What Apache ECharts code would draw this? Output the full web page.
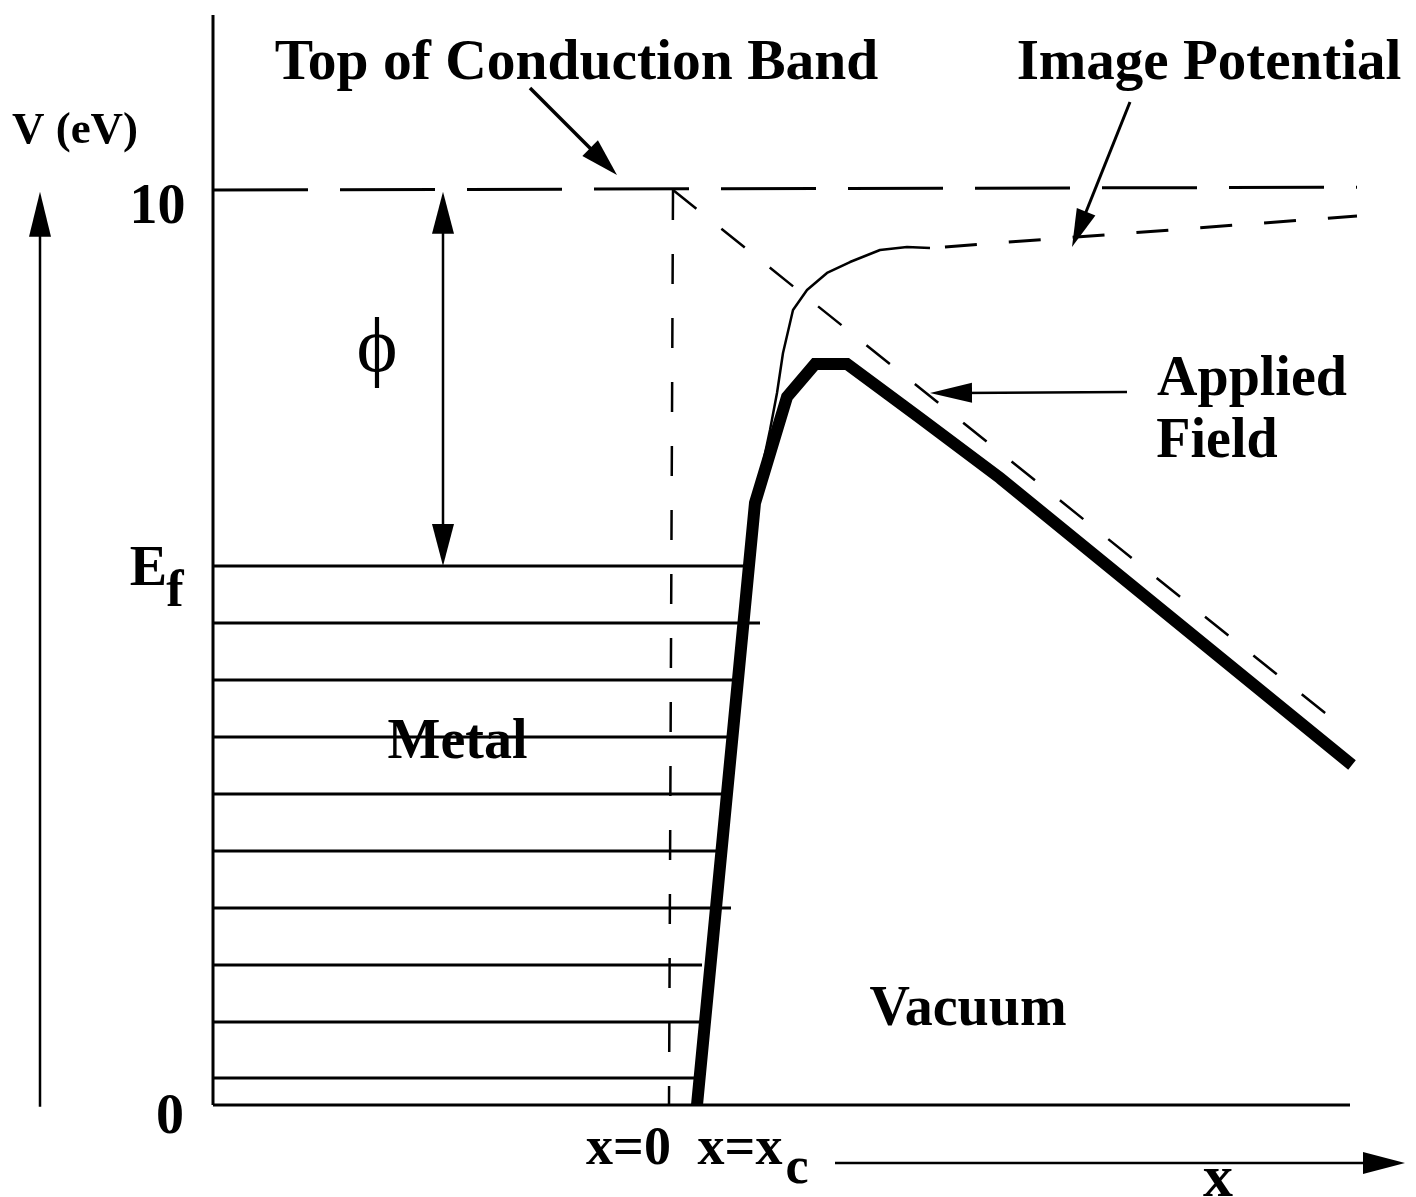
<!DOCTYPE html>
<html>
<head>
<meta charset="utf-8">
<script src="https://cdn.jsdelivr.net/npm/echarts@6/dist/echarts.min.js"></script>
<style>
  html, body { margin: 0; padding: 0; background: #fff; }
  #chart { width: 1416px; height: 1197px; }
</style>
</head>
<body>
<div id="chart"></div>
<script>
// ---------------- data (x in arbitrary distance units, V in eV) ----------------
const surfaceX = -45.9;                 // left edge of the metal
const axisTopV = 11.913;                // top of the vertical V line
const baseRightX = 67.8;                // end of the V = 0 line

const metalLevels    = [5.891, 5.268, 4.645, 4.022, 3.399, 2.776, 2.153, 1.530, 0.907, 0.295];
const metalLevelEnds = [7.8, 8.8, 6.2, 6.2, 5.5, 5.0, 5.9, 3.0, 3.0, 2.4];

const bandTopX = [-45.9, 68.5];
const bandTopV = [10, 10.03];

const originLineX = [0.1, -0.3];
const originLineV = [10, 0];

const fieldX = [0.1, 66.8];
const fieldV = [10, 4.153];

const barrierX = [2.5, 8.3, 11.5, 14.3, 17.5, 24.8, 32.8, 68.0];
const barrierV = [0, 6.579, 7.738, 8.098, 8.098, 7.508, 6.852, 3.716];

const imageX = [8.6, 9.1, 9.8, 10.5, 11.1, 12.1, 13.5, 15.5, 17.8, 20.8, 23.5, 25.8];
const imageV = [6.580, 7.016, 7.377, 7.781, 8.219, 8.689, 8.907, 9.093, 9.213, 9.344, 9.377, 9.366];

const imageTailX = [25.8, 68.5];
const imageTailV = [9.366, 9.716];

// arrows: [x1, v1, x2, v2]
const arrowData = [
  [-63.2, -0.02, -63.2, 9.98],     // V axis arrow
  [-22.9, 9.98, -22.9, 5.891],     // work function (double)
  [-14.2, 11.115, -5.5, 10.164],   // top of conduction band pointer
  [45.8, 10.962, 40.0, 9.377],     // image potential pointer
  [45.5, 7.792, 25.8, 7.781],      // applied field pointer
  [16.3, -0.634, 73.3, -0.634]     // x axis arrow
];

const yTickValues = [0, 5.891, 10];
const yTickLabels = ['0', 'E', '10'];

// annotation texts and their anchor points (data coords)
const annoText = ['V (eV)', 'f', 'ϕ', 'Top of Conduction Band', 'Image Potential', 'Applied', 'Field',
                  'Metal', 'Vacuum', 'x=0', 'x=x', 'c', 'x'];
const annoX = [-59.7, -49.7, -29.5, -9.55, 53.7, 58.0, 54.5, -21.45, 29.6, -4.35, 6.8, 12.5, 54.6];
const annoV = [10.678, 5.656, 8.251, 11.432, 11.432, 7.967, 7.290, 4.011, 1.082, -0.492, -0.492, -0.661, -0.765];

// ---------------- layout / style ----------------
const X0_PX = 672, PX_PER_X = 10, V0_PX = 1105, PX_PER_V = 91.5, W = 1416, H = 1197;
const FONT = 'Liberation Serif';
const annoSize = [45, 52, 78, 57.5, 57, 56, 56, 56, 56, 54, 54, 52, 60];
const annoWeight = ['bold', 'bold', 'normal', 'bold', 'bold', 'bold', 'bold', 'bold', 'bold', 'bold', 'bold', 'bold', 'bold'];
const annoShiftPx = [3, 5, 0, 5, 5, 5, 5, 6, 5, 0, 0, 4, 6];   // fine vertical nudge (pixels, downward)
const yTickSize = [56, 56, 56];
const yTickX = [-50.2, -52.35, -51.45];
const yTickShiftPx = [14, 5, 19];
const arrowStyle = [
  { len: 45, w: 22, lw: 2.5 },
  { len: 42, w: 22, lw: 2.5, double: true },
  { len: 38, w: 22, lw: 3.5 },
  { len: 38, w: 20, lw: 3 },
  { len: 42, w: 20, lw: 2.5 },
  { len: 42, w: 22, lw: 2.5 }
];

const zip = (xs, ys) => xs.map((x, i) => [x, ys[i]]);
const lineSeries = (data, style) => ({
  type: 'line', data, symbol: 'none', silent: true, animation: false,
  lineStyle: Object.assign({ color: '#000', width: 2.5 }, style), z: 2
});

const series = [];
// vertical boundary and baseline
series.push(lineSeries([[surfaceX, 0], [surfaceX, axisTopV]], { width: 3 }));
series.push(lineSeries([[surfaceX, 0], [baseRightX, 0]], { width: 3 }));
// metal levels
metalLevels.forEach((v, i) => series.push(lineSeries([[surfaceX, v], [metalLevelEnds[i], v]], { width: 3 })));
// top of conduction band
series.push(lineSeries(zip(bandTopX, bandTopV), { width: 3, type: [95, 32] }));
// x = 0 dashed
series.push(lineSeries(zip(originLineX, originLineV), { width: 2.5, type: [30, 34] }));
// applied field dashed
series.push(lineSeries(zip(fieldX, fieldV), { width: 2.5, type: [30, 32] }));
// image potential
series.push(lineSeries(zip(imageX, imageV), { width: 2.5 }));
series.push(lineSeries(zip(imageTailX, imageTailV), { width: 3, type: [32, 32], dashOffset: 49 }));
// barrier (thick)
series.push(Object.assign(lineSeries(zip(barrierX, barrierV), { width: 12, cap: 'butt', join: 'miter' }), { z: 3 }));

// arrows
series.push({
  type: 'custom', data: arrowData, silent: true, animation: false, clip: false, z: 4,
  encode: { x: [0, 2], y: [1, 3] },
  renderItem: function (params, api) {
    const p1 = api.coord([api.value(0), api.value(1)]);
    const p2 = api.coord([api.value(2), api.value(3)]);
    const st = arrowStyle[params.dataIndex];
    const dx = p2[0] - p1[0], dy = p2[1] - p1[1], len = Math.hypot(dx, dy);
    const ux = dx / len, uy = dy / len, L = st.len, hw = st.w / 2;
    const head = (tip, ax, ay) => {
      const bx = tip[0] - ax * L, by = tip[1] - ay * L;
      return { type: 'polygon', shape: { points: [tip, [bx - ay * hw, by + ax * hw], [bx + ay * hw, by - ax * hw]] },
               style: { fill: '#000' } };
    };
    let s = p1, e = [p2[0] - ux * L * 0.7, p2[1] - uy * L * 0.7];
    if (st.double) s = [p1[0] + ux * L * 0.7, p1[1] + uy * L * 0.7];
    const children = [
      { type: 'line', shape: { x1: s[0], y1: s[1], x2: e[0], y2: e[1] }, style: { stroke: '#000', lineWidth: st.lw } },
      head(p2, ux, uy)
    ];
    if (st.double) children.push(head(p1, -ux, -uy));
    return { type: 'group', children };
  }
});

const textLabel = (text, size, weight, dy) => ({
  show: true, position: 'inside', offset: [0, dy], formatter: text, fontSize: size,
  fontFamily: FONT, fontWeight: weight, color: '#000', opacity: 1, textBorderWidth: 0
});
// tick labels
series.push({
  type: 'scatter', symbolSize: 0, silent: true, animation: false, z: 5,
  itemStyle: { opacity: 1 },
  data: yTickValues.map((v, i) => ({
    value: [yTickX[i], v],
    label: textLabel(yTickLabels[i], yTickSize[i], 'bold', yTickShiftPx[i])
  }))
});
// annotations
series.push({
  type: 'scatter', symbolSize: 0, silent: true, animation: false, z: 5,
  itemStyle: { opacity: 1 },
  data: annoText.map((t, i) => ({
    value: [annoX[i], annoV[i]],
    label: textLabel(t, annoSize[i], annoWeight[i], annoShiftPx[i])
  }))
});

const chart = echarts.init(document.getElementById('chart'), null, { renderer: 'canvas' });
chart.setOption({
  backgroundColor: '#fff',
  animation: false,
  grid: { left: 0, right: 0, top: 0, bottom: 0 },
  xAxis: { type: 'value', min: -X0_PX / PX_PER_X, max: (W - X0_PX) / PX_PER_X, show: false },
  yAxis: { type: 'value', min: -(H - V0_PX) / PX_PER_V, max: V0_PX / PX_PER_V, show: false },
  tooltip: { show: false },
  series
});
</script>
</body>
</html>
